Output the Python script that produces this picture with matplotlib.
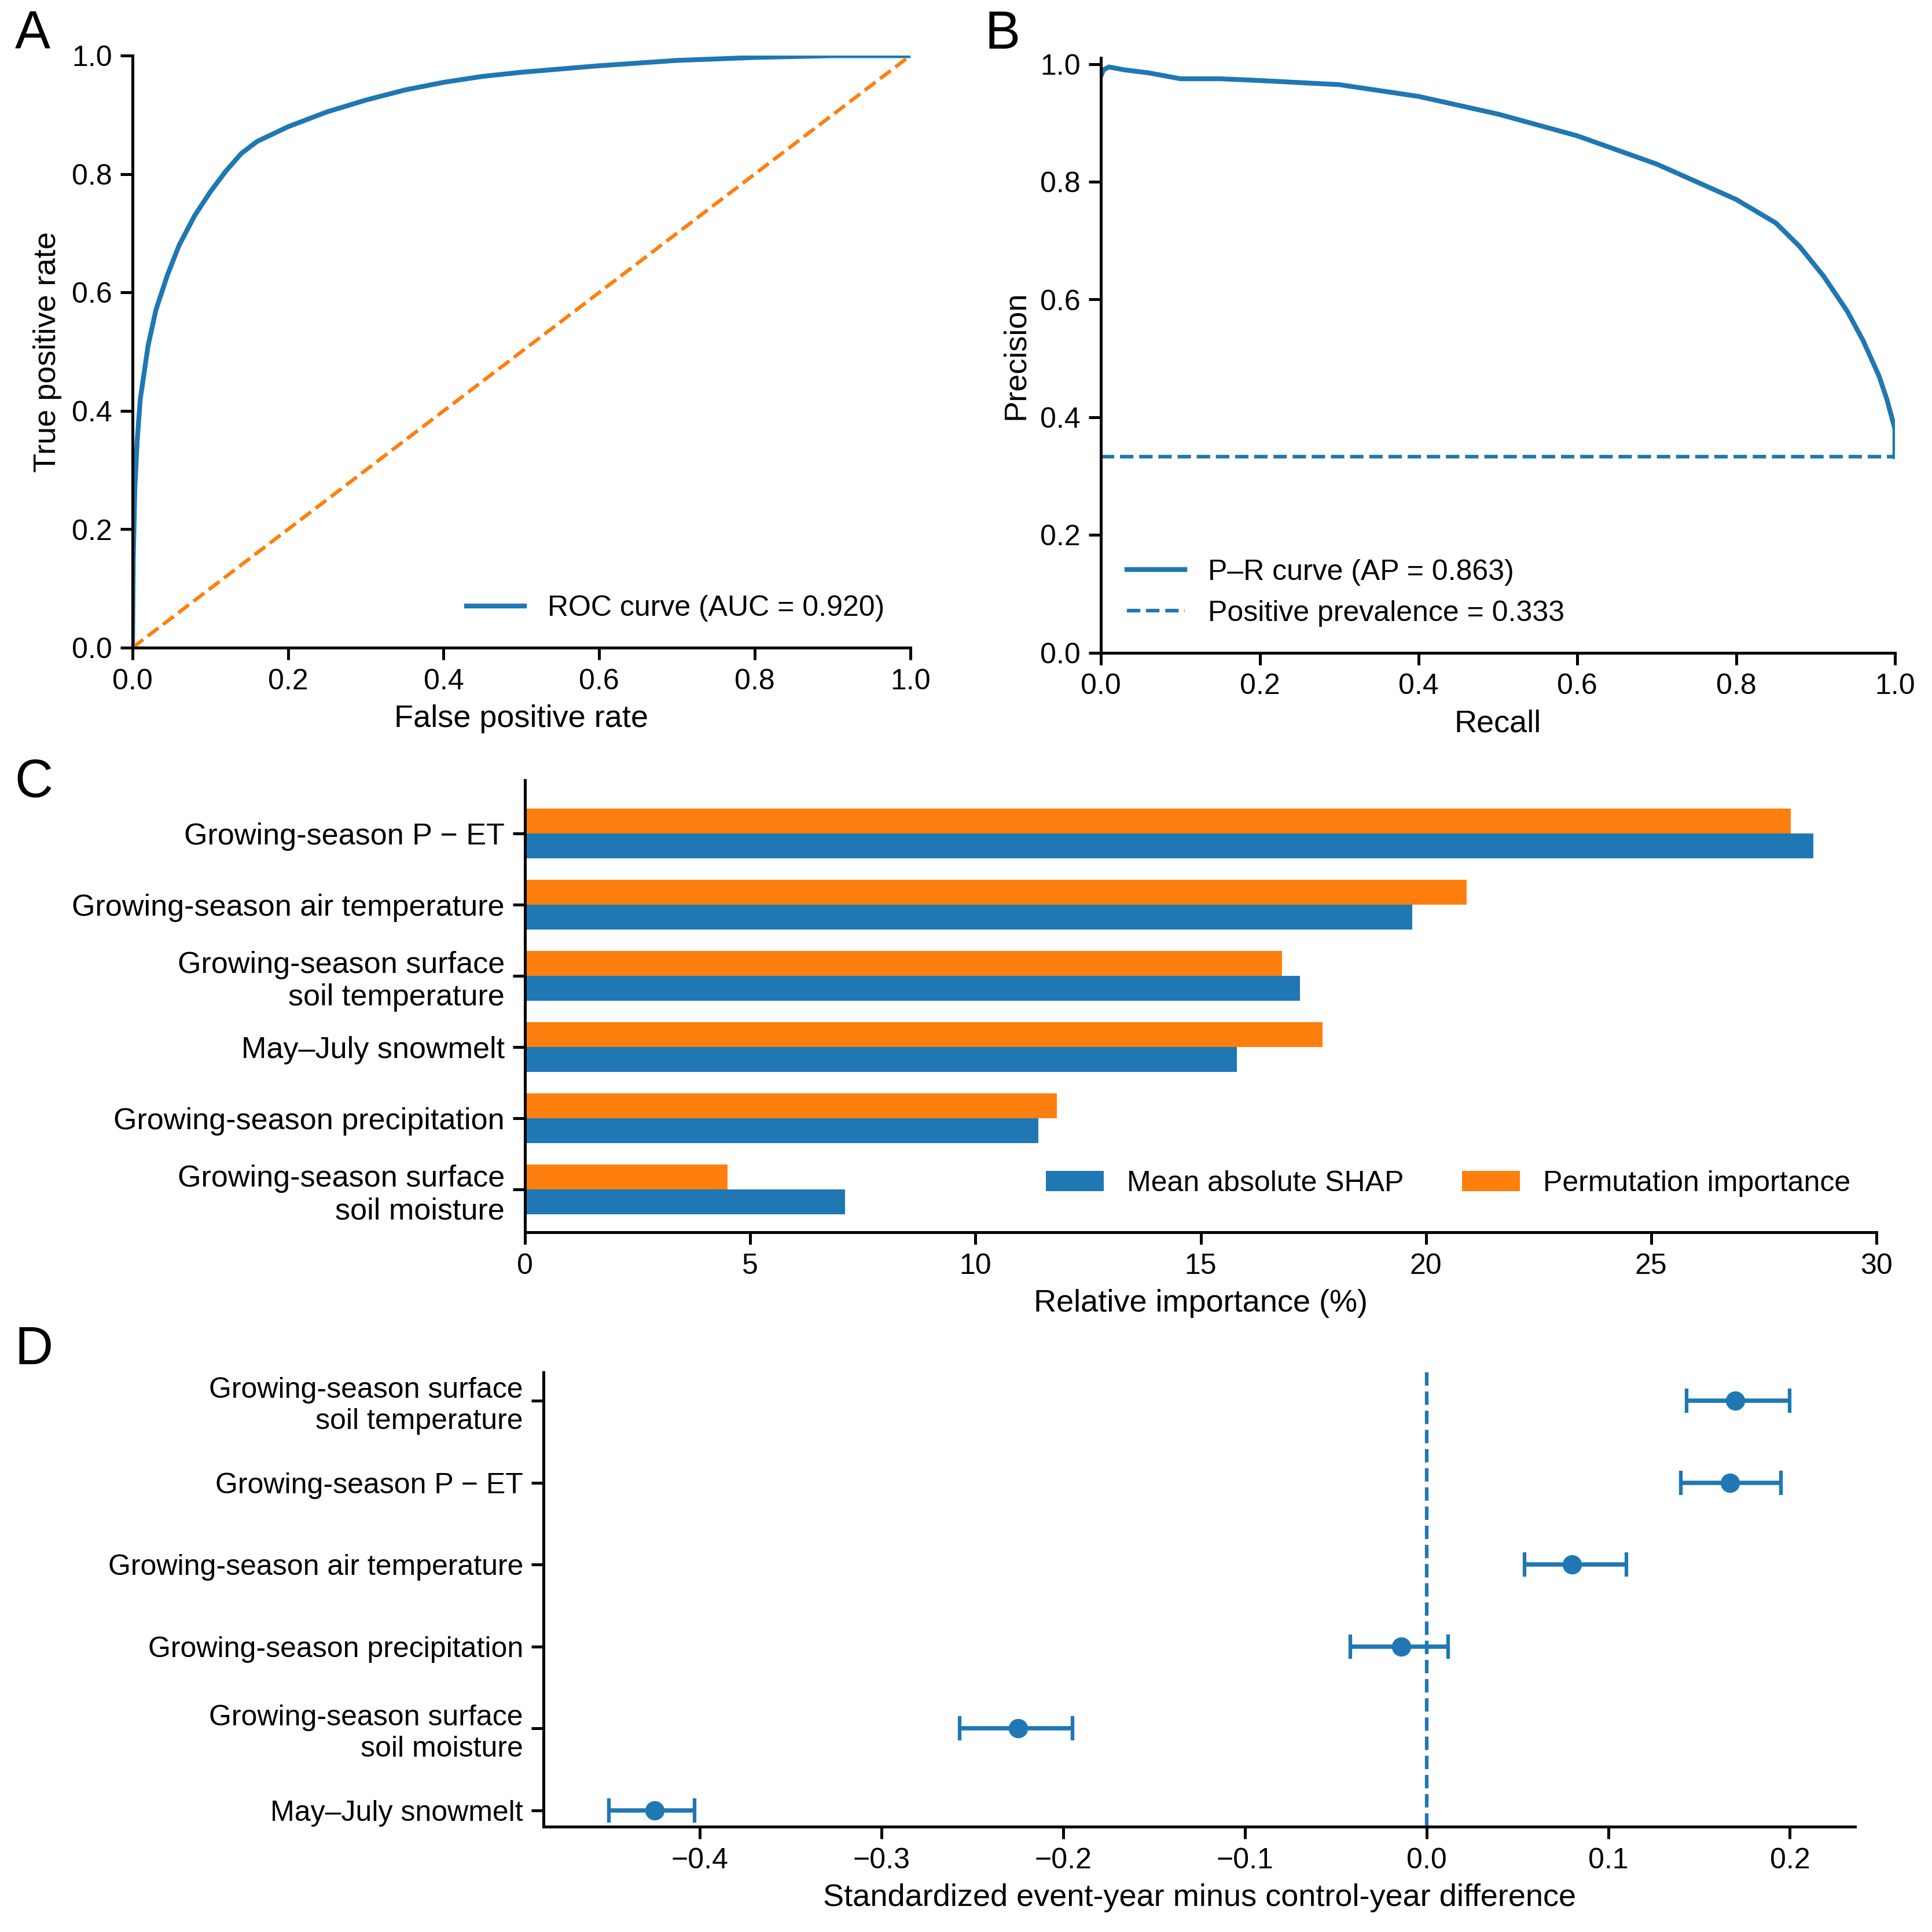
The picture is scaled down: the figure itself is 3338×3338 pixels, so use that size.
import matplotlib.pyplot as plt
import numpy as np

plt.rcParams['font.family'] = ['Liberation Sans', 'DejaVu Sans']
plt.rcParams['font.size'] = 12

blue = '#1f77b4'
orange = '#ff7f0e'

# ROC curve points
roc_fpr = [0, 0.001, 0.003, 0.006, 0.01, 0.02, 0.03, 0.045, 0.06, 0.08, 0.1, 0.12, 0.14, 0.16,
           0.2, 0.25, 0.3, 0.35, 0.4, 0.45, 0.5, 0.6, 0.7, 0.8, 0.9, 1.0]
roc_tpr = [0, 0.15, 0.27, 0.35, 0.42, 0.51, 0.57, 0.63, 0.68, 0.73, 0.77, 0.805, 0.835, 0.855,
           0.88, 0.905, 0.925, 0.942, 0.955, 0.965, 0.972, 0.983, 0.992, 0.997, 1.0, 1.0]
auc = 0.920

# Precision-recall curve points
pr_recall = [0, 0.003, 0.01, 0.03, 0.06, 0.1, 0.15, 0.2, 0.3, 0.4, 0.5, 0.6, 0.7, 0.75,
             0.8, 0.85, 0.88, 0.91, 0.94, 0.96, 0.98, 0.99, 1.0, 1.0]
pr_precision = [0.98, 0.99, 0.995, 0.99, 0.985, 0.975, 0.975, 0.972, 0.965, 0.945, 0.915,
                0.878, 0.83, 0.80, 0.77, 0.73, 0.69, 0.64, 0.58, 0.53, 0.47, 0.43, 0.38, 0.333]
ap = 0.863
prevalence = 0.333

# Panel C
imp_features = ['Growing-season P − ET', 'Growing-season air temperature',
                'Growing-season surface\nsoil temperature', 'May–July snowmelt',
                'Growing-season precipitation', 'Growing-season surface\nsoil moisture']
shap_vals = [28.6, 19.7, 17.2, 15.8, 11.4, 7.1]
perm_vals = [28.1, 20.9, 16.8, 17.7, 11.8, 4.5]

# Panel D
diff_features = ['Growing-season surface\nsoil temperature', 'Growing-season P − ET',
                 'Growing-season air temperature', 'Growing-season precipitation',
                 'Growing-season surface\nsoil moisture', 'May–July snowmelt']
diff_mean = [0.170, 0.167, 0.080, -0.014, -0.225, -0.425]
diff_lo = [0.143, 0.140, 0.054, -0.042, -0.257, -0.450]
diff_hi = [0.200, 0.195, 0.110, 0.012, -0.195, -0.403]

fig = plt.figure(figsize=(11.127, 11.127), dpi=300)
W = 1560.0
def box(x0, y0, x1, y1):
    return [x0 / W, 1 - y1 / W, (x1 - x0) / W, (y1 - y0) / W]

axA = fig.add_axes(box(107, 45, 735, 523))
axB = fig.add_axes(box(889, 47, 1530, 527))
axC = fig.add_axes(box(424, 630, 1515, 995))
axD = fig.add_axes(box(439, 1108, 1498, 1475))

for ax in (axA, axB, axC, axD):
    ax.spines['top'].set_visible(False)
    ax.spines['right'].set_visible(False)
    ax.tick_params(width=1.2, length=5, labelsize=12)
    for s in ('left', 'bottom'):
        ax.spines[s].set_linewidth(1.2)

# A
axA.plot(roc_fpr, roc_tpr, color=blue, lw=2, label=f'ROC curve (AUC = {auc:.3f})')
axA.plot([0, 1], [0, 1], color=orange, lw=1.5, ls='--')
axA.set_xlim(0, 1)
axA.set_ylim(0, 1)
axA.set_xlabel('False positive rate', fontsize=13)
axA.set_ylabel('True positive rate', fontsize=13)
axA.legend(loc='lower right', frameon=False)

# B
axB.plot(pr_recall, pr_precision, color=blue, lw=2, label=f'P–R curve (AP = {ap:.3f})')
axB.plot([0, 1], [prevalence, prevalence], color=blue, lw=1.5, ls='--',
         label=f'Positive prevalence = {prevalence:.3f}')
axB.set_xlim(0, 1)
axB.set_ylim(0, 1.01)
axB.set_xlabel('Recall', fontsize=13)
axB.set_ylabel('Precision', fontsize=13)
axB.legend(loc='lower left', frameon=False)

# C
y = np.arange(len(imp_features))
h = 0.35
axC.barh(y + h / 2, shap_vals, height=h, color=blue, label='Mean absolute SHAP')
axC.barh(y - h / 2, perm_vals, height=h, color=orange, label='Permutation importance')
axC.set_yticks(y)
axC.set_yticklabels(imp_features, fontsize=12.5)
axC.set_ylim(len(imp_features) - 0.4, -0.75)
axC.set_xlim(0, 30)
axC.set_xlabel('Relative importance (%)', fontsize=13)
axC.legend(loc='lower right', ncol=2, frameon=False, bbox_to_anchor=(1.0, 0.02))

# D
yd = np.arange(len(diff_features))
err = [np.array(diff_mean) - np.array(diff_lo), np.array(diff_hi) - np.array(diff_mean)]
axD.errorbar(diff_mean, yd, xerr=err, fmt='o', color=blue, ms=7, capsize=5, lw=1.8, capthick=1.5)
axD.axvline(0, color=blue, ls='--', lw=1.5)
axD.set_yticks(yd)
axD.set_yticklabels(diff_features, fontsize=12)
axD.set_ylim(len(diff_features) - 0.8, -0.35)
axD.set_xlim(-0.486, 0.236)
axD.set_xticks([-0.4, -0.3, -0.2, -0.1, 0.0, 0.1, 0.2])
axD.set_xticklabels(['−0.4', '−0.3', '−0.2', '−0.1', '0.0', '0.1', '0.2'])
axD.set_xlabel('Standardized event-year minus control-year difference', fontsize=13)

for lab, (x, yy) in zip('ABCD', [(12, 8), (795, 8), (12, 612), (12, 1070)]):
    fig.text(x / W, 1 - yy / W, lab, fontsize=22, va='top', ha='left')

fig.savefig('out.png', dpi=300)
